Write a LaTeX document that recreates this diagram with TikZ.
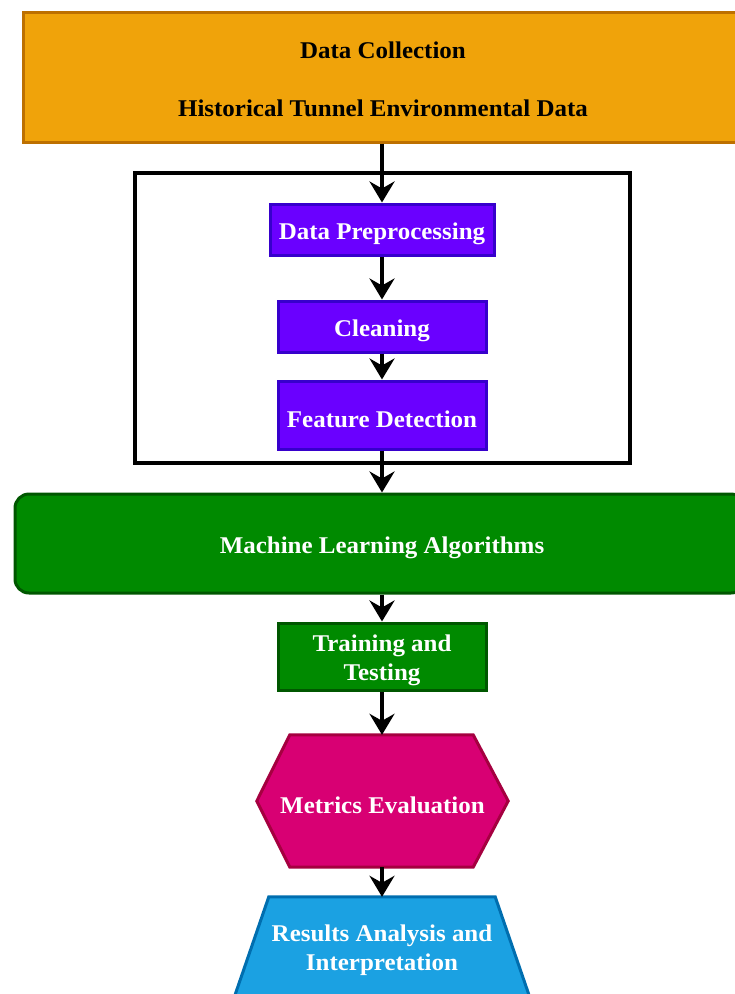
\documentclass[tikz,border=0pt]{standalone}
\usepackage{fontspec}
\setmainfont{Liberation Serif}[FakeStretch=1.04]
\usetikzlibrary{arrows.meta}
\definecolor{orf}{HTML}{F0A30A}
\definecolor{ors}{HTML}{BD7000}
\definecolor{puf}{HTML}{6A00FF}
\definecolor{pus}{HTML}{3700CC}
\definecolor{grf}{HTML}{008A00}
\definecolor{grs}{HTML}{005700}
\definecolor{mgf}{HTML}{D80073}
\definecolor{mgs}{HTML}{A50040}
\definecolor{blf}{HTML}{1BA1E2}
\definecolor{bls}{HTML}{006EAF}
\tikzset{
  lbl/.style={font=\fontsize{24}{29}\selectfont\bfseries, align=center, inner sep=0pt},
  wtxt/.style={lbl, text=white, yshift=-4pt},
  pbox/.style={rectangle, draw=pus, fill=puf, line width=3pt, inner sep=0pt},
  gbox/.style={rectangle, draw=grs, fill=grf, line width=3pt, inner sep=0pt},
  arr/.style={line width=4pt, -{Stealth[length=21pt, width=25pt, inset=7pt]}},
}
\begin{document}
\begin{tikzpicture}[x=1pt,y=-1pt]
\useasboundingbox (0,0) rectangle (735,994);
\clip (0,0) rectangle (735,994);
% data collection
\node[rectangle, draw=ors, fill=orf, line width=3pt, inner sep=0pt,
  minimum width=720pt, minimum height=130pt] (dc) at (383,77) {};
\node[lbl, text=black, font=\fontsize{24}{58}\selectfont\bfseries, yshift=-2pt] (dct) at (dc.center)
  {Data Collection\\Historical Tunnel Environmental Data};
% group frame
\node[draw=black, line width=3.5pt, minimum width=495pt, minimum height=290pt, inner sep=0pt] (grp) at (382.5,318) {};
\node[pbox, minimum width=224pt, minimum height=51pt] (pre) at (382,229.5) {};
\node[wtxt] (pret) at (pre.center) {Data Preprocessing};
\node[pbox, minimum width=208pt, minimum height=51pt] (cl) at (382,326.5) {};
\node[wtxt] (clt) at (cl.center) {Cleaning};
\node[pbox, minimum width=208pt, minimum height=68pt] (fd) at (382,415) {};
\node[wtxt] (fdt) at (fd.center) {Feature Detection};
\node[gbox, minimum width=730pt, minimum height=99pt, rounded corners=14pt] (ml) at (380,543.5) {};
\node[wtxt] (mlt) at (382,543.5) {Machine Learning Algorithms};
\node[gbox, minimum width=208pt, minimum height=67pt] (tt) at (382,656.5) {};
\node[wtxt] (ttt) at (tt.center) {Training and\\Testing};
% hexagon
\node[minimum width=251pt, minimum height=132pt, inner sep=0pt] (met) at (382.5,801) {};
\draw[draw=mgs, fill=mgf, line width=3pt]
  (met.west) -- ([xshift=33pt]met.north west) -- ([xshift=-35pt]met.north east)
  -- (met.east) -- ([xshift=-35pt]met.south east) -- ([xshift=33pt]met.south west) -- cycle;
\node[wtxt] (mett) at (met.center) {Metrics Evaluation};
% trapezoid
\node[minimum width=226pt, minimum height=110pt, inner sep=0pt] (res) at (382,952) {};
\draw[draw=bls, fill=blf, line width=3pt]
  (res.north west) -- (res.north east) -- ([xshift=38pt]res.south east)
  -- ([xshift=-38pt]res.south west) -- cycle;
\node[wtxt] (rest) at (382,946) {Results Analysis and\\Interpretation};
% connectors
\draw[arr] (pre.north |- dc.south) -- (pre.north);
\draw[arr] (pre.south) -- (cl.north);
\draw[arr] (cl.south) -- (fd.north);
\draw[arr] (fd.south) -- (fd.south |- ml.north);
\draw[arr] (tt.north |- ml.south) -- (tt.north);
\draw[arr] (tt.south) -- (tt.south |- met.north);
\draw[arr] (tt.south |- met.south) -- (tt.south |- res.north);
\end{tikzpicture}
\end{document}
